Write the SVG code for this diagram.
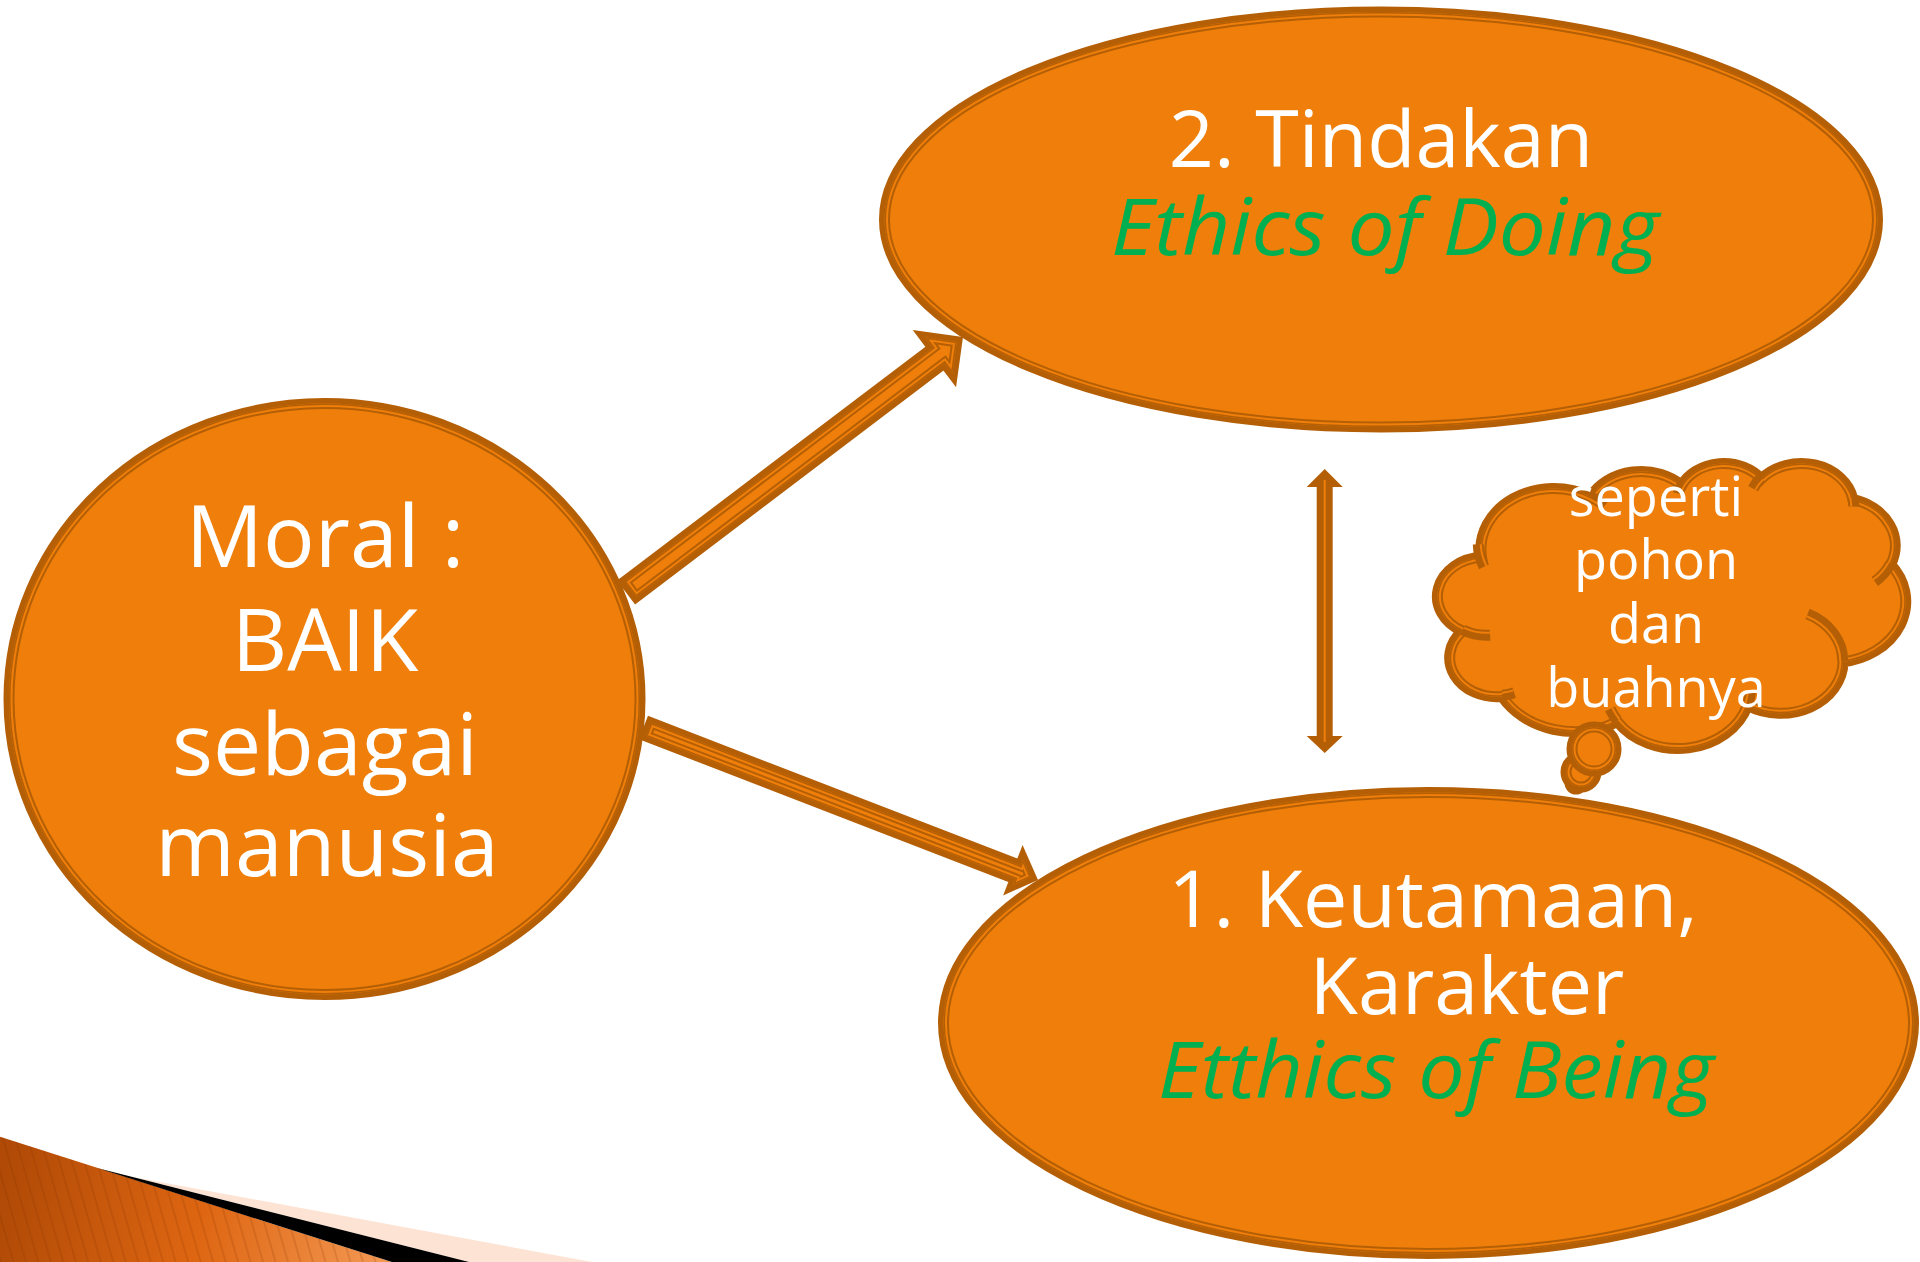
<svg xmlns="http://www.w3.org/2000/svg" width="1920" height="1262" viewBox="0 0 1920 1262">
<defs>
<style>
.base{fill:#EF7F0A;stroke:#B45F06;stroke-width:11;stroke-miterlimit:8}
.gap{fill:none;stroke:#EF7F0A;stroke-width:7;stroke-miterlimit:8}
.thk{fill:none;stroke:#B45F06;stroke-width:3;stroke-miterlimit:8}
.ia{fill:none;stroke:#B45F06;stroke-width:11}
.io{fill:none;stroke:#EF7F0A;stroke-width:2}
.w{fill:#FFFFFF;font-family:"Open Sans","DejaVu Sans",sans-serif;text-anchor:middle}
.gr{fill:#00B050;font-family:"Open Sans","DejaVu Sans",sans-serif;font-style:italic;text-anchor:middle}
</style>
<linearGradient id="wedgeGrad" gradientUnits="userSpaceOnUse" x1="0" y1="1190" x2="400" y2="1262">
<stop offset="0" stop-color="#B04A06"/>
<stop offset="0.5" stop-color="#DE6612"/>
<stop offset="1" stop-color="#F59C58"/>
</linearGradient>
<pattern id="stripes" patternUnits="userSpaceOnUse" width="12" height="12" patternTransform="rotate(-16)">
<rect x="0" y="0" width="2" height="12" fill="#7A2E00" opacity="0.16"/>
</pattern>
<ellipse id="shpMoral" cx="324.5" cy="699" rx="315.5" ry="295.5"/>
<ellipse id="shpTindakan" cx="1381" cy="219.5" rx="496.5" ry="207.5"/>
<ellipse id="shpKeutamaan" cx="1428.5" cy="1023" rx="485" ry="230.5"/>
<polygon id="shpArrow1" transform="translate(630.4 589.2) rotate(-37.17)" points="0,-9.5 387,-9.5 387,-22.6 409.6,0 387,22.6 387,9.5 0,9.5"/>
<polygon id="shpArrow2" transform="translate(648.6 729.5) rotate(21.13)" points="0,-7 396,-7 396,-13.7 409.7,0 396,13.7 396,7 0,7"/>
<path id="shpCloud" d="M1481.6 557.3 A72.84 60.63 0 0 1 1590.6 496.8 A57.53 47.94 0 0 1 1681.7 485.2 A47.09 39.22 0 0 1 1761.3 478.9 A52.39 43.51 0 0 1 1852.9 499.3 A57.53 47.98 0 0 1 1890.6 564.5 A73.08 60.83 0 0 1 1843.0 661.8 A62.40 51.90 0 0 1 1747.5 705.4 A72.83 60.79 0 0 1 1617.3 721.6 A83.28 69.55 0 0 1 1502.1 696.5 A47.03 39.04 0 0 1 1462.3 631.1 A46.87 39.22 0 0 1 1481.6 557.3 Z"/>
<circle id="shpB1" cx="1576" cy="783" r="6"/>
<circle id="shpB2" cx="1581" cy="772" r="15"/>
<circle id="shpB3" cx="1594" cy="749" r="22"/>
<clipPath id="cMoral"><use href="#shpMoral"/></clipPath>
<clipPath id="cTindakan"><use href="#shpTindakan"/></clipPath>
<clipPath id="cKeutamaan"><use href="#shpKeutamaan"/></clipPath>
<clipPath id="cArrow1"><use href="#shpArrow1"/></clipPath>
<clipPath id="cArrow2"><use href="#shpArrow2"/></clipPath>
<clipPath id="cCloud"><use href="#shpCloud"/></clipPath>
<clipPath id="cB1"><use href="#shpB1"/></clipPath>
<clipPath id="cB2"><use href="#shpB2"/></clipPath>
<clipPath id="cB3"><use href="#shpB3"/></clipPath>
</defs>

<rect x="0" y="0" width="1920" height="1262" fill="#FFFFFF"/>

<g id="decoration">
<polygon points="0,1136.7 392,1262 0,1262" fill="url(#wedgeGrad)"/>
<polygon points="0,1136.7 392,1262 0,1262" fill="url(#stripes)"/>
<polygon points="130,1176.4 592,1262 469,1262" fill="#FDE3D3"/>
<polygon points="98,1168.3 469,1262 392,1262" fill="#000000"/>
</g>

<g id="node-moral">
<use href="#shpMoral" class="base"/>
<g clip-path="url(#cMoral)"><use href="#shpMoral" class="gap"/><use href="#shpMoral" class="thk"/></g>
<text class="w" font-size="86"><tspan x="325" y="567">Moral :</tspan><tspan x="325" y="671">BAIK</tspan><tspan x="325" y="775">sebagai</tspan><tspan x="327" y="876">manusia</tspan></text>
</g>

<g id="connectors">
<g id="arrow-moral-tindakan">
<use href="#shpArrow1" class="base"/>
<g clip-path="url(#cArrow1)"><use href="#shpArrow1" class="gap"/><use href="#shpArrow1" class="thk"/></g>
</g>
<g id="arrow-moral-keutamaan">
<use href="#shpArrow2" class="base"/>
<g clip-path="url(#cArrow2)"><use href="#shpArrow2" class="gap"/><use href="#shpArrow2" class="thk"/></g>
</g>
<g id="arrow-tindakan-keutamaan">
<polygon points="1324.7,469 1342.7,487 1332.7,487 1332.7,736 1342.7,736 1324.7,753 1306.7,736 1316.7,736 1316.7,487 1306.7,487" fill="#B45F06"/>
<line x1="1324.7" y1="480" x2="1324.7" y2="742" stroke="#EF7F0A" stroke-width="2"/>
</g>
</g>

<g id="node-tindakan">
<use href="#shpTindakan" class="base"/>
<g clip-path="url(#cTindakan)"><use href="#shpTindakan" class="gap"/><use href="#shpTindakan" class="thk"/></g>
<text class="w" font-size="79" x="1381" y="166.5">2. Tindakan</text>
<text class="gr" font-size="79" x="1385" y="254.7" textLength="548" lengthAdjust="spacingAndGlyphs">Ethics of Doing</text>
</g>

<g id="node-keutamaan">
<use href="#shpKeutamaan" class="base"/>
<g clip-path="url(#cKeutamaan)"><use href="#shpKeutamaan" class="gap"/><use href="#shpKeutamaan" class="thk"/></g>
<text class="w" font-size="79"><tspan x="1433" y="927">1. Keutamaan,</tspan><tspan x="1467" y="1014">Karakter</tspan></text>
<text class="gr" font-size="79" x="1436" y="1098" textLength="556" lengthAdjust="spacingAndGlyphs">Etthics of Being</text>
</g>

<g id="node-cloud">
<use href="#shpCloud" class="base"/>
<g clip-path="url(#cCloud)"><use href="#shpCloud" class="gap"/><use href="#shpCloud" class="thk"/></g>
<path class="ia" d="M1490.1 635.2 A46.87 39.22 0 0 1 1462.8 629.9 M1514.2 692.8 A47.03 39.04 0 0 1 1502.3 695.3 M1617.3 720.4 A72.83 60.79 0 0 1 1610.1 708.9 M1750.5 691.7 A72.83 60.79 0 0 1 1747.6 704.3 M1807.6 613.9 A62.40 51.90 0 0 1 1842.7 661.0 M1890.4 563.8 A57.53 47.98 0 0 1 1874.8 581.5 M1852.9 498.3 A52.39 43.51 0 0 1 1853.7 506.6 M1753.1 488.6 A52.39 43.51 0 0 1 1761.1 478.0 M1678.3 493.7 A47.09 39.22 0 0 1 1682.2 484.5 M1590.5 496.8 A72.84 60.63 0 0 1 1604.6 505.7 M1484.0 566.7 A72.84 60.63 0 0 1 1478.3 544.3"/>
<path class="io" d="M1489.9 632.7 A44.37 36.72 0 0 1 1464.1 627.8 M1513.3 690.4 A44.53 36.54 0 0 1 1502.0 692.8 M1619.3 719.0 A70.33 58.29 0 0 1 1612.4 708.0 M1748.0 691.5 A70.33 58.29 0 0 1 1745.2 703.6 M1806.5 616.2 A59.9 49.4 0 0 1 1840.2 661.0 M1888.1 562.8 A55.03 45.48 0 0 1 1873.1 579.6 M1850.4 498.7 A49.89 41.01 0 0 1 1851.2 506.6 M1755.4 489.6 A49.89 41.01 0 0 1 1763.0 479.6 M1680.7 494.2 A44.59 36.72 0 0 1 1684.4 485.6 M1589.3 499.0 A70.34 58.13 0 0 1 1602.8 507.5 M1486.3 565.7 A70.34 58.13 0 0 1 1480.8 544.2"/>
<use href="#shpB1" class="base"/>
<g clip-path="url(#cB1)"><use href="#shpB1" class="gap"/><use href="#shpB1" class="thk"/></g>
<use href="#shpB2" class="base"/>
<g clip-path="url(#cB2)"><use href="#shpB2" class="gap"/><use href="#shpB2" class="thk"/></g>
<use href="#shpB3" class="base"/>
<g clip-path="url(#cB3)"><use href="#shpB3" class="gap"/><use href="#shpB3" class="thk"/></g>
<text class="w" font-size="54"><tspan x="1656" y="515.5">seperti</tspan><tspan x="1656" y="579">pohon</tspan><tspan x="1656" y="643">dan</tspan><tspan x="1656" y="706.5">buahnya</tspan></text>
</g>
</svg>
